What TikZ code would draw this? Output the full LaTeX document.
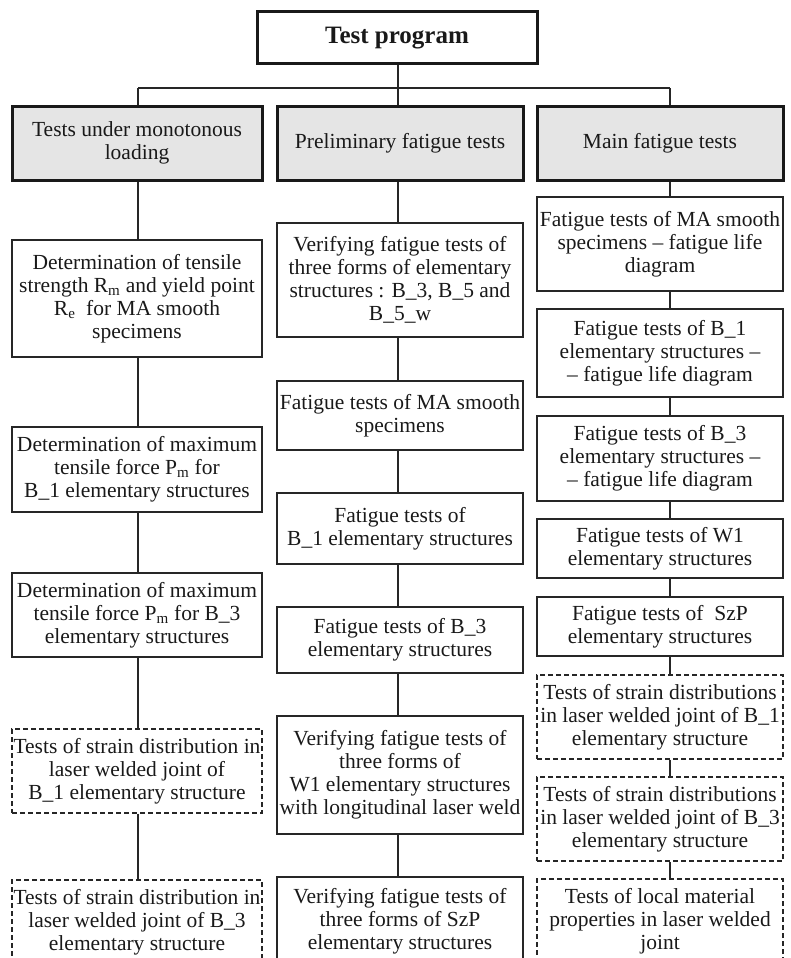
\documentclass[tikz,border=0pt]{standalone}
\usepackage{fontspec}
\setmainfont{Liberation Serif}
\usepackage{tikz}

\begin{document}
\begin{tikzpicture}[x=1pt,y=-1pt,
    txt/.style={font=\fontsize{21.5}{23}\selectfont,align=center,inner sep=0pt,text=black!90},
    box/.style={txt,draw=black!85,line width=1.2pt},
    dbox/.style={box,dash pattern=on 5pt off 3pt},
    hdr/.style={txt,draw=black!90,line width=3pt,fill=black!10},
    lcol/.style={minimum width=250pt},
    mcol/.style={minimum width=246pt},
    rcol/.style={minimum width=246pt},
    conn/.style={draw=black!85,line width=1.2pt}]
    \useasboundingbox (0,0) rectangle (790,958);
    \clip (0,0) rectangle (790,958);
    \node[txt,draw=black!90,line width=3pt,minimum width=280pt,minimum height=52pt,font=\fontsize{25}{27}\selectfont\bfseries] at (397,38) (7c1e04a2) {Test program};
    \node[hdr,lcol,minimum height=74pt] at (137,143) (3f9b21d0) {Tests under monotonous\\loading};
    \node[hdr,mcol,minimum height=74pt] at (400,143) (a84c6e15) {Preliminary fatigue tests};
    \node[hdr,rcol,minimum height=74pt] at (660,143) (e25d7f93) {Main fatigue tests};
    \coordinate (c0a1e7f2) at (138,88);
    \coordinate (5d3b9e06) at (398,88);
    \coordinate (f84a2c1b) at (670,88);
    % tests under monotonous loading
    \node[box,lcol,minimum height=117pt] at (137,298.5) (51b0c3e8) {Determination of tensile\\strength R\textsubscript{m} and yield point\\R\textsubscript{e}\ \ for MA smooth\\specimens};
    \node[box,lcol,minimum height=85pt] at (137,469.5) (0d6a9f47) {Determination of maximum\\tensile force P\textsubscript{m} for\\B\_1 elementary structures};
    \node[box,lcol,minimum height=84pt] at (137,615) (c93e1b26) {Determination of maximum\\tensile force P\textsubscript{m} for B\_3\\elementary structures};
    \node[dbox,lcol,minimum height=84pt] at (137,771) (68f2a5d1) {Tests of strain distribution in\\laser welded joint of\\B\_1 elementary structure};
    \node[dbox,lcol,minimum height=85pt] at (137,922.5) (b4170e9c) {Tests of strain distribution in\\laser welded joint of B\_3\\elementary structure};
    % preliminary fatigue tests
    \node[box,mcol,minimum height=114pt] at (400,280) (2e8d4b73) {Verifying fatigue tests of\\three forms of elementary\\structures : B\_3, B\_5 and\\B\_5\_w};
    \node[box,mcol,minimum height=69pt] at (400,415.5) (9a05f6c1) {Fatigue tests of MA smooth\\specimens};
    \node[box,mcol,minimum height=71pt] at (400,528.5) (47c3e2b8) {Fatigue tests of\\B\_1 elementary structures};
    \node[box,mcol,minimum height=66pt] at (400,640) (f1d96a04) {Fatigue tests of B\_3\\elementary structures};
    \node[box,mcol,minimum height=118pt] at (400,775) (83b7c51e) {Verifying fatigue tests of\\three forms of\\W1 elementary structures\\with longitudinal laser weld};
    \node[box,mcol,minimum height=88pt] at (400,921) (1c4e0f9a) {Verifying fatigue tests of\\three forms of SzP\\elementary structures};
    % main fatigue tests
    \node[box,rcol,minimum height=94pt] at (660,244) (d7a2b6e3) {Fatigue tests of MA smooth\\specimens -- fatigue life\\diagram};
    \node[box,rcol,minimum height=88pt] at (660,353) (6e9f13c5) {Fatigue tests of B\_1\\elementary structures --\\-- fatigue life diagram};
    \node[box,rcol,minimum height=85pt] at (660,458.5) (05c8d7a1) {Fatigue tests of B\_3\\elementary structures --\\-- fatigue life diagram};
    \node[box,rcol,minimum height=59pt] at (660,548.5) (bb3e4f62) {Fatigue tests of W1\\elementary structures};
    \node[box,rcol,minimum height=59pt] at (660,626.5) (4a71c09d) {Fatigue tests of\ \ SzP\\elementary structures};
    \node[dbox,rcol,minimum height=84pt] at (660,717) (92d5e8b7) {Tests of strain distributions\\in laser welded joint of B\_1\\elementary structure};
    \node[dbox,rcol,minimum height=84pt] at (660,819) (3c06a1f4) {Tests of strain distributions\\in laser welded joint of B\_3\\elementary structure};
    \node[dbox,rcol,minimum height=85pt] at (660,921.5) (e8b4d25a) {Tests of local material\\properties in laser welded\\joint};
    \path[conn]
    (7c1e04a2.south -| 5d3b9e06) edge (a84c6e15.north -| 5d3b9e06)
    (c0a1e7f2) edge (f84a2c1b)
    (c0a1e7f2) edge (3f9b21d0.north -| c0a1e7f2)
    (f84a2c1b) edge (e25d7f93.north -| f84a2c1b)
    (3f9b21d0.south -| c0a1e7f2) edge (51b0c3e8.north -| c0a1e7f2)
    (51b0c3e8.south -| c0a1e7f2) edge (0d6a9f47.north -| c0a1e7f2)
    (0d6a9f47.south -| c0a1e7f2) edge (c93e1b26.north -| c0a1e7f2)
    (c93e1b26.south -| c0a1e7f2) edge (68f2a5d1.north -| c0a1e7f2)
    (68f2a5d1.south -| c0a1e7f2) edge (b4170e9c.north -| c0a1e7f2)
    (a84c6e15.south -| 5d3b9e06) edge (2e8d4b73.north -| 5d3b9e06)
    (2e8d4b73.south -| 5d3b9e06) edge (9a05f6c1.north -| 5d3b9e06)
    (9a05f6c1.south -| 5d3b9e06) edge (47c3e2b8.north -| 5d3b9e06)
    (47c3e2b8.south -| 5d3b9e06) edge (f1d96a04.north -| 5d3b9e06)
    (f1d96a04.south -| 5d3b9e06) edge (83b7c51e.north -| 5d3b9e06)
    (83b7c51e.south -| 5d3b9e06) edge (1c4e0f9a.north -| 5d3b9e06)
    (e25d7f93.south -| f84a2c1b) edge (d7a2b6e3.north -| f84a2c1b)
    (d7a2b6e3.south -| f84a2c1b) edge (6e9f13c5.north -| f84a2c1b)
    (6e9f13c5.south -| f84a2c1b) edge (05c8d7a1.north -| f84a2c1b)
    (05c8d7a1.south -| f84a2c1b) edge (bb3e4f62.north -| f84a2c1b)
    (bb3e4f62.south -| f84a2c1b) edge (4a71c09d.north -| f84a2c1b)
    (4a71c09d.south -| f84a2c1b) edge (92d5e8b7.north -| f84a2c1b)
    (92d5e8b7.south -| f84a2c1b) edge (3c06a1f4.north -| f84a2c1b)
    (3c06a1f4.south -| f84a2c1b) edge (e8b4d25a.north -| f84a2c1b)
    ;
\end{tikzpicture}
\end{document}
